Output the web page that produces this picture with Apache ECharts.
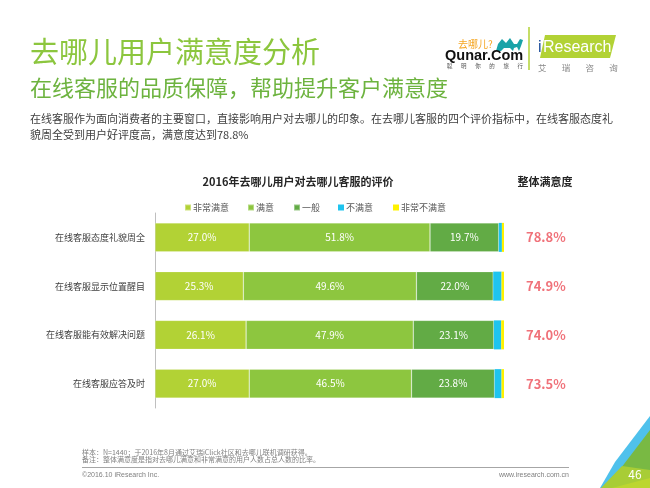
<!DOCTYPE html>
<html>
<head>
<meta charset="utf-8">
<script src="https://cdn.jsdelivr.net/npm/echarts@6/dist/echarts.min.js"></script>
<style>
  html, body { margin: 0; padding: 0; background: #fff; }
  #main { width: 650px; height: 488px; }
</style>
</head>
<body>
<div id="main"></div>
<script>
var categories = ['在线客服态度礼貌周全', '在线客服显示位置醒目', '在线客服能有效解决问题', '在线客服应答及时'];
var seriesNames = ['非常满意', '满意', '一般', '不满意', '非常不满意'];
var veryGood = [27.0, 25.3, 26.1, 27.0];
var good = [51.8, 49.6, 47.9, 46.5];
var normal = [19.7, 22.0, 23.1, 23.8];
var bad = [0.9, 2.4, 2.1, 2.0];
var veryBad = [0.6, 0.7, 0.8, 0.7];
var overall = ['78.8%', '74.9%', '74.0%', '73.5%'];

var colors = ['#b2d235', '#8dc63f', '#62ab45', '#1fc4ef', '#fff200'];
var legendLeft = [179, 242, 288, 333, 388];
var font = 'Noto Sans CJK SC';

var myChart = echarts.init(document.getElementById('main'));

var values = [veryGood, good, normal, bad, veryBad];
var series = [];
var legends = [];
for (var i = 0; i < values.length; i++) {
  series.push({
    name: seriesNames[i],
    type: 'bar',
    stack: 'total',
    barWidth: 29,
    data: values[i],
    itemStyle: {
      color: colors[i],
      borderColor: 'rgba(255,255,255,0.35)',
      borderWidth: i < 3 ? 0.6 : 0
    },
    label: {
      show: i < 3,
      position: 'inside',
      color: '#fff',
      fontFamily: font,
      fontSize: 10,
      formatter: function (p) { return p.value.toFixed(1) + '%'; }
    }
  });
  // one legend per item, the gaps in the original are uneven
  legends.push({
    left: legendLeft[i],
    top: 198,
    itemWidth: 6,
    itemHeight: 6,
    icon: 'rect',
    data: [seriesNames[i]],
    selectedMode: false,
    textStyle: {fontSize: 9, color: '#595959', fontFamily: font, padding: [0, 0, 0, -3]}
  });
}

myChart.setOption({
  textStyle: {fontFamily: font},
  animation: false,
  legend: legends,
  grid: {
    left: 155,
    top: 213,
    width: 349,
    height: 195
  },
  xAxis: {
    type: 'value',
    min: 0,
    max: 100,
    show: false
  },
  yAxis: [
    {
      type: 'category',
      inverse: true,
      data: categories,
      axisLine: {show: true, lineStyle: {color: '#bfbfbf', width: 1}},
      axisTick: {show: false},
      axisLabel: {fontSize: 9, color: '#404040', margin: 10, fontFamily: font}
    },
    {
      type: 'category',
      inverse: true,
      position: 'right',
      data: overall,
      axisLine: {show: false},
      axisTick: {show: false},
      axisLabel: {fontSize: 13, fontWeight: 'bold', color: '#f0727a', margin: 22, fontFamily: font}
    }
  ],
  series: series,
  graphic: [
    {type: 'text', x: 30, y: 52, style: {text: '去哪儿用户满意度分析', fontSize: 29, fill: '#8cc63e', verticalAlign: 'middle', fontFamily: font}},
    {type: 'text', x: 30, y: 88, style: {text: '在线客服的品质保障，帮助提升客户满意度', fontSize: 22, fill: '#6db33f', verticalAlign: 'middle', fontFamily: font}},
    {type: 'text', x: 30, y: 111, style: {
      text: '在线客服作为面向消费者的主要窗口，直接影响用户对去哪儿的印象。在去哪儿客服的四个评价指标中，在线客服态度礼\n貌周全受到用户好评度高，满意度达到78.8%',
      fontSize: 11, lineHeight: 16, fill: '#404040', fontFamily: font}},
    {type: 'text', x: 298, y: 182, style: {text: '2016年去哪儿用户对去哪儿客服的评价', fontSize: 11, fontWeight: 'bold', fill: '#262626', align: 'center', verticalAlign: 'middle', fontFamily: font}},
    {type: 'text', x: 545, y: 182, style: {text: '整体满意度', fontSize: 11, fontWeight: 'bold', fill: '#262626', align: 'center', verticalAlign: 'middle', fontFamily: font}},

    // logos
    {type: 'text', x: 458, y: 44, style: {text: '去哪儿?', fontSize: 10, fill: '#f5a623', verticalAlign: 'middle', fontFamily: font}},
    {type: 'polygon', shape: {points: [[496, 51], [498, 44], [502, 39], [506, 43], [510, 38], [514, 44], [517, 44], [520, 39], [523, 40], [521, 46], [519, 51], [517, 47], [514, 48], [513, 51], [510, 48], [504, 48], [501, 51]]}, style: {fill: '#1aa3a8'}},
    {type: 'text', x: 445, y: 56, style: {text: 'Qunar.Com', fontSize: 14.5, fontWeight: 'bold', fill: '#111', verticalAlign: 'middle', fontFamily: 'Liberation Sans'}},
    {type: 'text', x: 447, y: 66, style: {text: '聪       明       你       的       旅       行', fontSize: 5.5, fill: '#555', verticalAlign: 'middle', fontFamily: font}},
    {type: 'line', shape: {x1: 529, y1: 27, x2: 529, y2: 70}, style: {stroke: '#b2d235', lineWidth: 1.5}},
    {type: 'polygon', shape: {points: [[545, 35], [616, 35], [610, 58], [540, 58]]}, style: {fill: '#b2d235'}},
    {type: 'text', x: 538, y: 48, style: {text: 'i', fontSize: 16, fill: '#1f4e9c', verticalAlign: 'middle', fontFamily: 'Liberation Sans'}},
    {type: 'text', x: 543, y: 48, style: {text: 'Research', fontSize: 16, fill: '#fff', verticalAlign: 'middle', fontFamily: 'Liberation Sans'}},
    {type: 'text', x: 538, y: 68, style: {text: '艾        瑞        咨        询', fontSize: 8.5, fill: '#888', verticalAlign: 'middle', fontFamily: font}},

    // footer
    {type: 'text', x: 82, y: 452, style: {text: '样本：N=1440；于2016年8月通过艾瑞iClick社区和去哪儿联机调研获得。', fontSize: 7, fill: '#808080', verticalAlign: 'middle', fontFamily: font}},
    {type: 'text', x: 82, y: 459, style: {text: '备注：整体满意度是指对去哪儿满意和非常满意的用户人数占总人数的比率。', fontSize: 7, fill: '#808080', verticalAlign: 'middle', fontFamily: font}},
    {type: 'line', shape: {x1: 82, y1: 467.5, x2: 569, y2: 467.5}, style: {stroke: '#a6a6a6', lineWidth: 1}},
    {type: 'text', x: 82, y: 475, style: {text: '©2016.10 iResearch Inc.', fontSize: 7, fill: '#808080', verticalAlign: 'middle', fontFamily: 'Liberation Sans'}},
    {type: 'text', x: 569, y: 475, style: {text: 'www.iresearch.com.cn', fontSize: 7, fill: '#808080', align: 'right', verticalAlign: 'middle', fontFamily: 'Liberation Sans'}},

    // corner decoration
    {type: 'polygon', shape: {points: [[615, 462], [650, 416], [650, 488], [600, 488]]}, style: {fill: '#4fc1ec'}},
    {type: 'polygon', shape: {points: [[621, 468], [650, 430], [650, 488], [606, 488]]}, style: {fill: '#79b943'}},
    {type: 'polygon', shape: {points: [[601, 488], [622, 466], [650, 470], [650, 488]]}, style: {fill: '#a8cd36'}},
    {type: 'polygon', shape: {points: [[612, 488], [650, 478], [650, 488]]}, style: {fill: '#bcd630'}},
    {type: 'text', x: 635, y: 474, style: {text: '46', fontSize: 12, fill: '#fff', align: 'center', verticalAlign: 'middle', fontFamily: font}}
  ]
});
</script>
</body>
</html>
